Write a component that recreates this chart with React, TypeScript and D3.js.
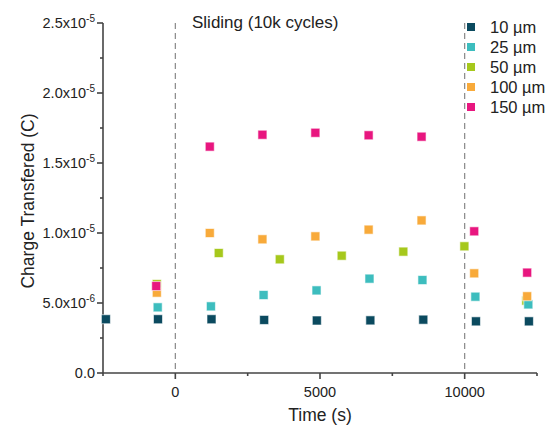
import React, { useEffect, useRef } from 'react';
import * as d3 from 'd3';

// time (s) and charge (C) per electrode size
const series = ['10 µm', '25 µm', '50 µm', '100 µm', '150 µm'];
const colors = ['#0b4a5f', '#3dbdbe', '#a6c81c', '#f8aa3a', '#e8167f'];

const t10 = [-2400, -600, 1250, 3070, 4890, 6740, 8570, 10390, 12220];
const q10 = [3.84e-6, 3.84e-6, 3.84e-6, 3.79e-6, 3.75e-6, 3.76e-6, 3.81e-6, 3.69e-6, 3.69e-6];

const t25 = [-610, 1230, 3050, 4880, 6710, 8540, 10370, 12200];
const q25 = [4.69e-6, 4.76e-6, 5.57e-6, 5.9e-6, 6.74e-6, 6.64e-6, 5.45e-6, 4.9e-6];

const t50 = [-640, 1500, 3610, 5750, 7880, 9990, 12130];
const q50 = [6.35e-6, 8.57e-6, 8.12e-6, 8.38e-6, 8.67e-6, 9.05e-6, 5.17e-6];

const t100 = [-640, 1190, 3010, 4840, 6680, 8510, 10330, 12160];
const q100 = [5.74e-6, 1.0e-5, 9.55e-6, 9.76e-6, 1.024e-5, 1.09e-5, 7.12e-6, 5.48e-6];

const t150 = [-660, 1190, 3010, 4840, 6680, 8510, 10330, 12160];
const q150 = [6.21e-6, 1.617e-5, 1.702e-5, 1.716e-5, 1.698e-5, 1.688e-5, 1.012e-5, 7.17e-6];

const xMajor = [0, 5000, 10000];
const xMinor = [-2500, 2500, 7500, 12500];
const yMajor = [0, 5e-6, 1e-5, 1.5e-5, 2e-5, 2.5e-5];
const yLabels = [['0.0', ''], ['5.0x10', '-6'], ['1.0x10', '-5'], ['1.5x10', '-5'], ['2.0x10', '-5'], ['2.5x10', '-5']];
const yMinor = [2.5e-6, 7.5e-6, 1.25e-5, 1.75e-5, 2.25e-5];
const dashedAt = [0, 10000];

// draw order: 50 under 25 (as in the figure)
const order = [0, 2, 1, 3, 4];
const allT = [t10, t25, t50, t100, t150];
const allQ = [q10, q25, q50, q100, q150];

export default function App() {
  const ref = useRef<SVGSVGElement>(null);

  useEffect(() => {
    document.body.style.margin = '0';
    const W = 552, H = 429;
    const x = d3.scaleLinear().domain([-2500, 12500]).range([103, 537]);
    const y = d3.scaleLinear().domain([0, 2.5e-5]).range([373, 23]);

    const svg = d3.select(ref.current).attr('width', W).attr('height', H);
    svg.selectAll('*').remove();
    svg.append('rect').attr('width', W).attr('height', H).attr('fill', 'white');
    const font = 'Liberation Sans, Arial, sans-serif';

    // dashed phase markers
    svg.selectAll('.dash').data(dashedAt).enter().append('line')
      .attr('x1', (d) => x(d)).attr('x2', (d) => x(d))
      .attr('y1', y(2.5e-5)).attr('y2', y(0))
      .attr('stroke', '#888').attr('stroke-width', 1.2).attr('stroke-dasharray', '6,4');

    // x axis
    const ax = svg.append('g').attr('stroke', '#444').attr('stroke-width', 1.6);
    ax.append('line').attr('x1', x(-2500)).attr('x2', x(12500)).attr('y1', y(0)).attr('y2', y(0));
    ax.selectAll('.xt').data(xMajor).enter().append('line')
      .attr('x1', (d) => x(d)).attr('x2', (d) => x(d)).attr('y1', y(0)).attr('y2', y(0) + 6);
    ax.selectAll('.xm').data(xMinor).enter().append('line')
      .attr('x1', (d) => x(d)).attr('x2', (d) => x(d)).attr('y1', y(0)).attr('y2', y(0) + 3);
    svg.selectAll('.xl').data(xMajor).enter().append('text')
      .attr('x', (d) => x(d)).attr('y', 397).attr('text-anchor', 'middle')
      .attr('font-family', font).attr('font-size', 14.5).attr('fill', '#222')
      .text((d) => String(d));

    // y axis
    ax.append('line').attr('x1', x(-2500)).attr('x2', x(-2500)).attr('y1', y(0)).attr('y2', y(2.5e-5));
    ax.selectAll('.yt').data(yMajor).enter().append('line')
      .attr('x1', x(-2500) - 6).attr('x2', x(-2500)).attr('y1', (d) => y(d)).attr('y2', (d) => y(d));
    ax.selectAll('.ym').data(yMinor).enter().append('line')
      .attr('x1', x(-2500) - 3).attr('x2', x(-2500)).attr('y1', (d) => y(d)).attr('y2', (d) => y(d));
    const yl = svg.selectAll('.yl').data(yMajor).enter().append('text')
      .attr('x', 95).attr('y', (d) => y(d) + 5).attr('text-anchor', 'end')
      .attr('font-family', font).attr('font-size', 14.5).attr('fill', '#222');
    yl.append('tspan').text((d, i) => yLabels[i][0]);
    yl.append('tspan').attr('dy', -6).attr('font-size', 10).text((d, i) => yLabels[i][1]);

    // axis titles
    svg.append('text').attr('transform', `translate(34,${y(1.25e-5) + 3}) rotate(-90)`)
      .attr('text-anchor', 'middle').attr('font-family', font).attr('font-size', 17.5).attr('fill', '#222')
      .text('Charge Transfered (C)');
    svg.append('text').attr('x', x(5000)).attr('y', 421).attr('text-anchor', 'middle')
      .attr('font-family', font).attr('font-size', 17.5).attr('fill', '#222').text('Time (s)');
    svg.append('text').attr('x', 192).attr('y', 28)
      .attr('font-family', font).attr('font-size', 17).attr('fill', '#222').text('Sliding (10k cycles)');

    // points
    const s = 9;
    order.forEach((k) => {
      const pts = allT[k].map((t, i) => [t, allQ[k][i]]);
      svg.append('g').selectAll('rect').data(pts).enter().append('rect')
        .attr('x', (d) => x(d[0]) - s / 2).attr('y', (d) => y(d[1]) - s / 2)
        .attr('width', s).attr('height', s)
        .attr('fill', colors[k]).attr('stroke', 'white').attr('stroke-opacity', 0.6).attr('stroke-width', 1);
    });

    // legend
    const lg = svg.append('g');
    series.forEach((name, i) => {
      const cy = 27 + i * 20;
      lg.append('rect').attr('x', 467).attr('y', cy - 4).attr('width', 8).attr('height', 8).attr('fill', colors[i]);
      lg.append('text').attr('x', 490).attr('y', cy + 6).attr('font-family', font).attr('font-size', 16.5)
        .attr('fill', '#222').text(name);
    });
  }, []);

  return <svg ref={ref} style={{ display: 'block' }} />;
}
